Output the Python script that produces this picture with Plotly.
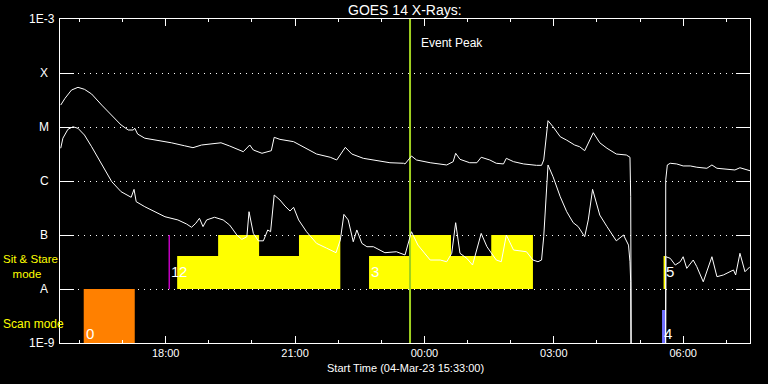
import numpy as np
import plotly.graph_objects as go

# ---------------- data ----------------
long_time = ["15:34","15:40","15:49","15:58","16:07","16:17","16:31","16:45","16:58","17:08","17:15","17:17","17:21","17:31","17:49","18:08","18:26","18:38","18:50","19:03","19:17","19:29","19:48","19:57","20:02","20:14","20:27","20:31","20:39","20:58","21:16","21:30","21:49","21:58","22:10","22:19","22:35","22:54","23:12","23:31","23:33","23:42","23:49","00:08","00:31","00:40","00:43:30","00:49:30","01:03","01:13","01:19","01:31","01:40","01:50","01:54","02:04","02:18","02:36","02:43","02:46","02:52","02:59","03:09","03:18","03:29","03:36","03:43","03:55","04:04","04:14","04:27","04:41","04:46","04:47","04:48","05:35:30","05:35:45","05:38","05:42","05:51","06:00","06:10","06:19","06:33","06:40","06:47","07:01","07:12","07:19","07:28","07:33"]
long_flux = [2.55e-5,3.40e-5,4.84e-5,5.43e-5,4.99e-5,4.08e-5,2.55e-5,1.67e-5,1.09e-5,8.8e-6,8.8e-6,9.5e-6,7.4e-6,6.2e-6,5.7e-6,5.1e-6,4.5e-6,4.14e-6,4.64e-6,4.84e-6,5.1e-6,4.45e-6,3.49e-6,4.64e-6,3.75e-6,3.26e-6,3.64e-6,6.44e-6,5.9e-6,5.35e-6,4.04e-6,3.16e-6,2.75e-6,2.45e-6,4.2e-6,3.16e-6,2.63e-6,2.38e-6,2.18e-6,2.13e-6,2.07e-6,2.9e-6,2.45e-6,2.18e-6,1.98e-6,2.28e-6,3.26e-6,2.52e-6,2.18e-6,2.18e-6,2.75e-6,2.45e-6,2.13e-6,2.07e-6,2.63e-6,2.28e-6,2.07e-6,1.95e-6,1.95e-6,2.45e-6,1.31e-5,1.01e-5,6.6e-6,5.7e-6,4.64e-6,4.31e-6,3.64e-6,7.83e-6,5.1e-6,4.04e-6,3.16e-6,3.03e-6,2.75e-6,5.1e-7,1e-10,1e-10,1.05e-6,1.98e-6,2.13e-6,2.07e-6,1.90e-6,1.90e-6,1.80e-6,1.72e-6,1.98e-6,1.72e-6,1.65e-6,1.60e-6,1.76e-6,1.65e-6,1.55e-6]

short_time = ["15:34","15:37","15:44","15:51","15:58","16:07","16:17","16:26","16:35","16:45","16:58","17:12","17:16","17:19","17:31","17:49","17:59","18:17","18:29","18:36","18:42","18:47","18:52","18:57","19:08","19:20","19:29","19:34","19:39","19:46","19:53","19:56","20:02","20:09","20:16","20:22","20:26","20:31","20:39","20:46","20:53","20:58","21:05","21:16","21:30","21:44","21:57","22:03","22:08","22:14","22:21","22:26","22:33","22:40","22:49","23:05","23:21","23:33","23:42","23:51","00:08","00:22","00:31","00:38","00:43:30","00:49:30","00:59","01:07","01:19","01:27","01:40","01:47","01:54","02:04","02:22","02:31","02:38","02:43","02:46","02:52","02:59","03:09","03:18","03:27","03:34","03:43","03:48","03:54","04:04","04:14","04:27","04:37","04:44","04:46","04:47","04:47:30","05:35:30","05:36","05:42","05:49","05:56","06:00","06:05","06:14","06:19","06:28","06:40","06:47","06:56","07:10","07:13","07:19","07:26","07:33"]
short_flux = [4.04e-6,6.2e-6,9.06e-6,1.01e-5,9.46e-6,7.1e-6,4.31e-6,2.63e-6,1.60e-6,9.7e-7,6.34e-7,4.99e-7,7.0e-7,4.14e-7,3.34e-7,2.52e-7,2.18e-7,1.90e-7,1.60e-7,1.39e-7,1.65e-7,2.04e-7,1.43e-7,1.90e-7,2.13e-7,1.90e-7,1.53e-7,1.24e-7,1.0e-7,8.3e-8,9.3e-8,2.7e-7,1.07e-7,7.8e-8,7.8e-8,1.24e-7,1.15e-7,5.5e-7,4.45e-7,3.44e-7,2.78e-7,3.26e-7,1.90e-7,1.15e-7,7.0e-8,5.7e-8,4.7e-8,8.1e-8,2.41e-7,1.90e-7,7.5e-8,1.24e-7,7.0e-8,6.07e-8,6.07e-8,4.7e-8,4.9e-8,4.27e-8,1.15e-7,6.5e-8,3.44e-8,3.44e-8,3.2e-8,4.58e-8,1.69e-7,4.58e-8,3.7e-8,2.78e-8,1.07e-7,6.07e-8,3.44e-8,3.2e-8,1.0e-7,5.27e-8,4.9e-8,3.44e-8,3.2e-8,3.44e-8,9.3e-8,1.98e-6,1.20e-6,5.1e-7,2.7e-7,1.69e-7,1.43e-7,9.3e-8,1.90e-7,7.0e-7,2.34e-7,1.43e-7,7.8e-8,1.0e-7,6.5e-8,3.2e-8,1.36e-8,1e-10,1e-10,3.96e-8,3.7e-8,2.78e-8,3.2e-8,3.96e-8,2.41e-8,3.44e-8,2.59e-8,1.36e-8,3.96e-8,1.69e-8,1.82e-8,2.25e-8,1.82e-8,4.58e-8,2.09e-8,2.59e-8]

# sit & stare pointings (staircase blocks)
ss_start = ["18:16","19:13","20:10","21:05:30","22:43","23:41","00:37","01:33"]
ss_end   = ["19:13","20:10","21:05:30","22:03","23:41","00:37","01:33","02:31"]
ss_top   = [4.08e-8,1e-7,4.08e-8,1e-7,4.08e-8,1e-7,4.08e-8,1e-7]
ss_base = 1e-8

# scan mode blocks
scan_start = ["16:06","05:30:36"]
scan_end   = ["17:17","05:35:12"]
scan_top   = [1e-8,4.08e-9]
scan_color = ["#ff8000","#7070ff"]
scan_base = 1e-9

# very short pointings (thin lines)
thin_time  = ["18:05","05:33:48"]
thin_lo    = [1e-8,1e-8]
thin_hi    = [1e-7,4.08e-8]
thin_color = ["#c000c0","#ffff00"]

event_peak = "23:40"

num_text = ["0","1","2","3","4","5"]
num_time = ["16:06","18:05","18:16","22:43","05:30:36","05:33:48"]
num_flux = [1.53e-9,2.07e-8,2.07e-8,2.07e-8,1.53e-9,2.07e-8]

class_vals = [1e-3,1e-4,1e-5,1e-6,1e-7,1e-8,1e-9]
class_text = ["1E-3","X","M","C","B","A","1E-9"]

x_start = "15:33"
x_end = "07:33"


def ts(hm):
    h = int(hm[:2])
    day = "04" if h >= 12 else "05"
    s = hm if len(hm) > 5 else hm + ":00"
    return f"2023-03-{day} {s}"


fig = go.Figure()

# sit & stare staircase polygons (group contiguous segments)
groups = []
cur = [0]
for i in range(1, len(ss_start)):
    if ss_start[i] == ss_end[i - 1]:
        cur.append(i)
    else:
        groups.append(cur)
        cur = [i]
groups.append(cur)
for g in groups:
    xs = [ts(ss_start[g[0]])]
    ys = [ss_base]
    for i in g:
        xs += [ts(ss_start[i]), ts(ss_end[i])]
        ys += [ss_top[i], ss_top[i]]
    xs += [ts(ss_end[g[-1]]), ts(ss_start[g[0]])]
    ys += [ss_base, ss_base]
    fig.add_trace(go.Scatter(x=xs, y=ys, fill="toself", fillcolor="#ffff00",
                             mode="lines", line=dict(width=0, color="#ffff00"),
                             hoverinfo="skip"))

for s, e, top, c in zip(scan_start, scan_end, scan_top, scan_color):
    fig.add_trace(go.Scatter(x=[ts(s), ts(s), ts(e), ts(e), ts(s)],
                             y=[scan_base, top, top, scan_base, scan_base],
                             fill="toself", fillcolor=c, mode="lines",
                             line=dict(width=0, color=c), hoverinfo="skip"))

for t, lo, hi, c in zip(thin_time, thin_lo, thin_hi, thin_color):
    fig.add_trace(go.Scatter(x=[ts(t), ts(t)], y=[lo, hi], mode="lines",
                             line=dict(width=1.5, color=c), hoverinfo="skip"))

fig.add_trace(go.Scatter(x=[ts(event_peak), ts(event_peak)], y=[1e-9, 1e-3],
                         mode="lines", line=dict(width=2, color="#a0d020"),
                         hoverinfo="skip"))

fig.add_trace(go.Scatter(x=[ts(t) for t in long_time], y=long_flux, mode="lines",
                         line=dict(width=1, color="white")))
fig.add_trace(go.Scatter(x=[ts(t) for t in short_time], y=short_flux, mode="lines",
                         line=dict(width=1, color="white")))

ann = []
for txt, t, f in zip(num_text, num_time, num_flux):
    ann.append(dict(x=ts(t), y=np.log10(f), xref="x", yref="y", text=txt,
                    showarrow=False, xanchor="left", yanchor="middle",
                    font=dict(size=15, color="white")))
for v, txt in zip(class_vals, class_text):
    if txt.startswith("1E"):
        ann.append(dict(x=0, y=np.log10(v), xref="paper", yref="y", text=txt,
                        showarrow=False, xanchor="right", yanchor="middle", xshift=-3,
                        font=dict(size=12, color="white")))
    else:
        ann.append(dict(x=0, y=np.log10(v), xref="paper", yref="y", text=txt,
                        showarrow=False, xanchor="center", yanchor="middle", xshift=-16,
                        font=dict(size=12, color="white")))

ann.append(dict(x=0.5, y=1, xref="paper", yref="paper", text="GOES 14 X-Rays:",
                showarrow=False, xanchor="center", yanchor="middle", yshift=9,
                font=dict(size=14, color="white")))
ann.append(dict(x=0.5, y=0, xref="paper", yref="paper",
                text="Start Time (04-Mar-23 15:33:00)", showarrow=False,
                xanchor="center", yanchor="middle", yshift=-25,
                font=dict(size=11, color="white")))
ann.append(dict(x=ts(event_peak), y=0.926, xref="x", yref="paper", text="Event Peak",
                showarrow=False, xanchor="left", yanchor="middle", xshift=9,
                font=dict(size=12, color="white")))
ann.append(dict(x=0, y=np.log10(2.07e-8) + 0.11, xref="paper", yref="y",
                text="Sit & Stare<br>\u00a0\u00a0\u00a0mode", align="left",
                showarrow=False, xanchor="left", yanchor="middle", xshift=-59,
                font=dict(size=11.5, color="#ffff00")))
ann.append(dict(x=0, y=np.log10(2.25e-9), xref="paper", yref="y", text="Scan mode",
                showarrow=False, xanchor="left", yanchor="middle", xshift=-59,
                font=dict(size=12, color="#ffff00")))

fig.update_layout(
    width=768, height=384,
    margin=dict(l=60, r=18, t=19, b=41),
    paper_bgcolor="black", plot_bgcolor="black",
    showlegend=False,
    font=dict(family="Liberation Sans", color="white", size=11),
    annotations=ann,
    xaxis=dict(type="date", range=[ts(x_start), ts(x_end)],
               showline=True, linecolor="white", linewidth=1, mirror="ticks",
               ticks="inside", ticklen=7, tickcolor="white", tickwidth=1,
               dtick=3 * 3600 * 1000, tick0="2023-03-04 18:00:00",
               tickformat="%H:%M", showgrid=False, zeroline=False,
               tickfont=dict(size=11, color="white"),
               minor=dict(ticks="inside", ticklen=3, dtick=3600 * 1000,
                          tickcolor="white", showgrid=False)),
    yaxis=dict(type="log", range=[-9, -3], tickvals=class_vals,
               showticklabels=False, ticks="inside", ticklen=14,
               tickcolor="white", tickwidth=1,
               showline=True, linecolor="white", linewidth=1, mirror="ticks",
               showgrid=True, gridcolor="white", gridwidth=1, griddash="1px,5px",
               zeroline=False),
)

fig.write_html("out.html")
